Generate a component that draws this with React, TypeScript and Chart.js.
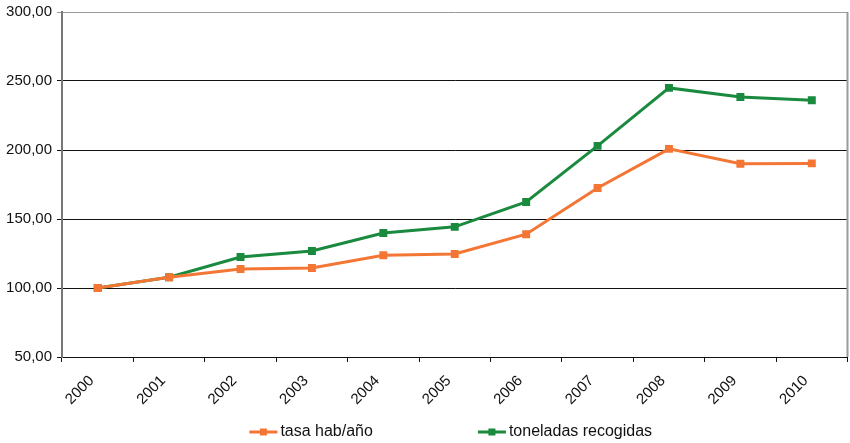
import React, { useEffect, useRef } from "react";
import { Chart, registerables } from "chart.js";

Chart.register(...registerables);

const YEARS = ["2000", "2001", "2002", "2003", "2004", "2005", "2006", "2007", "2008", "2009", "2010"];
const TASA = [100, 107.8, 113.8, 114.5, 123.8, 124.6, 139, 172.5, 200.8, 190, 190.3];
const TONELADAS = [100, 107.8, 122.5, 126.8, 139.8, 144.3, 162.3, 203, 245, 238.4, 236.1];
const SERIES_NAMES = ["tasa hab/año", "toneladas recogidas"];
const COLORS = ["#F47634", "#198A3E"];
const Y_MIN = 50;
const Y_MAX = 300;
const Y_STEP = 50;

const FONT = '"Liberation Sans", Arial, sans-serif';

const frameAndLegend = {
  id: "frameAndLegend",
  beforeDatasetsDraw(chart: any) {
    const { ctx, chartArea } = chart;
    ctx.save();
    ctx.strokeStyle = "#9a9a9a";
    ctx.lineWidth = 2;
    ctx.beginPath();
    ctx.moveTo(chartArea.right, chartArea.top);
    ctx.lineTo(chartArea.right, chartArea.bottom);
    ctx.stroke();
    ctx.restore();
  },
  afterDraw(chart: any) {
    const { ctx, chartArea } = chart;
    ctx.save();
    ctx.font = "16px " + FONT;
    const lineW = 28;
    const textGap = 3;
    const itemGap = 105;
    const ds = chart.data.datasets;
    const widths = ds.map((d: any) => lineW + textGap + ctx.measureText(d.label).width);
    const total = widths.reduce((a: number, b: number) => a + b, 0) + itemGap * (ds.length - 1);
    let x = (chartArea.left + chartArea.right) / 2 - 4 - total / 2;
    const y = 432;
    ds.forEach((d: any, i: number) => {
      ctx.strokeStyle = d.borderColor;
      ctx.lineWidth = 3;
      ctx.beginPath();
      ctx.moveTo(x, y);
      ctx.lineTo(x + lineW, y);
      ctx.stroke();
      ctx.fillStyle = d.borderColor;
      ctx.fillRect(x + lineW / 2 - 3.5, y - 3.5, 7, 7);
      ctx.fillStyle = "#111";
      ctx.textAlign = "left";
      ctx.textBaseline = "middle";
      ctx.fillText(d.label, x + lineW + textGap, y);
      x += widths[i] + itemGap;
    });
    ctx.restore();
  },
};

export default function App() {
  const ref = useRef<HTMLCanvasElement | null>(null);

  useEffect(() => {
    if (!ref.current) return;
    const chart = new Chart(ref.current, {
      type: "line",
      data: {
        labels: YEARS,
        datasets: [
          {
            label: SERIES_NAMES[0],
            data: TASA,
            borderColor: COLORS[0],
            backgroundColor: COLORS[0],
            borderWidth: 3,
            pointStyle: "rect",
            pointRadius: 3.5,
            pointHoverRadius: 3.5,
            tension: 0,
          },
          {
            label: SERIES_NAMES[1],
            data: TONELADAS,
            borderColor: COLORS[1],
            backgroundColor: COLORS[1],
            borderWidth: 3,
            pointStyle: "rect",
            pointRadius: 3.5,
            pointHoverRadius: 3.5,
            tension: 0,
          },
        ],
      },
      options: {
        animation: false,
        responsive: true,
        maintainAspectRatio: false,
        layout: { padding: { top: 12, right: 0, left: 0, bottom: 0 } },
        plugins: {
          legend: { display: false },
          tooltip: { enabled: false },
        },
        scales: {
          x: {
            offset: true,
            grid: {
              offset: true,
              drawOnChartArea: false,
              drawTicks: true,
              tickLength: 5,
              color: "#111",
            },
            border: { color: "#111", width: 1 },
            ticks: {
              minRotation: 45,
              maxRotation: 45,
              color: "#111",
              font: { family: FONT, size: 15 },
              padding: 10,
              labelOffset: -6,
            },
            afterFit(scale: any) {
              scale.height = 86;
              scale.paddingRight = 0;
              scale.paddingLeft = 0;
            },
          },
          y: {
            min: Y_MIN,
            max: Y_MAX,
            grid: {
              color: (c: any) => (c.tick && c.tick.value === Y_MAX ? "#9a9a9a" : "#111"),
              lineWidth: 1,
              tickLength: 5,
              drawTicks: true,
            },
            border: { color: "#777", width: 2 },
            ticks: {
              stepSize: Y_STEP,
              color: "#111",
              font: { family: FONT, size: 15 },
              padding: 5,
              callback: (v: any) => Number(v).toFixed(2).replace(".", ","),
            },
            afterFit(scale: any) {
              scale.width = 62;
              scale.paddingTop = 0;
              scale.paddingBottom = 0;
            },
          },
        },
      },
      plugins: [frameAndLegend],
    });
    return () => chart.destroy();
  }, []);

  return (
    <div style={{ position: "fixed", left: 0, top: 0, width: 850, height: 443, overflow: "hidden", background: "#fff" }}>
      <div style={{ position: "absolute", left: 0, top: 0, width: 854, height: 443 }}>
        <canvas ref={ref} />
      </div>
    </div>
  );
}
